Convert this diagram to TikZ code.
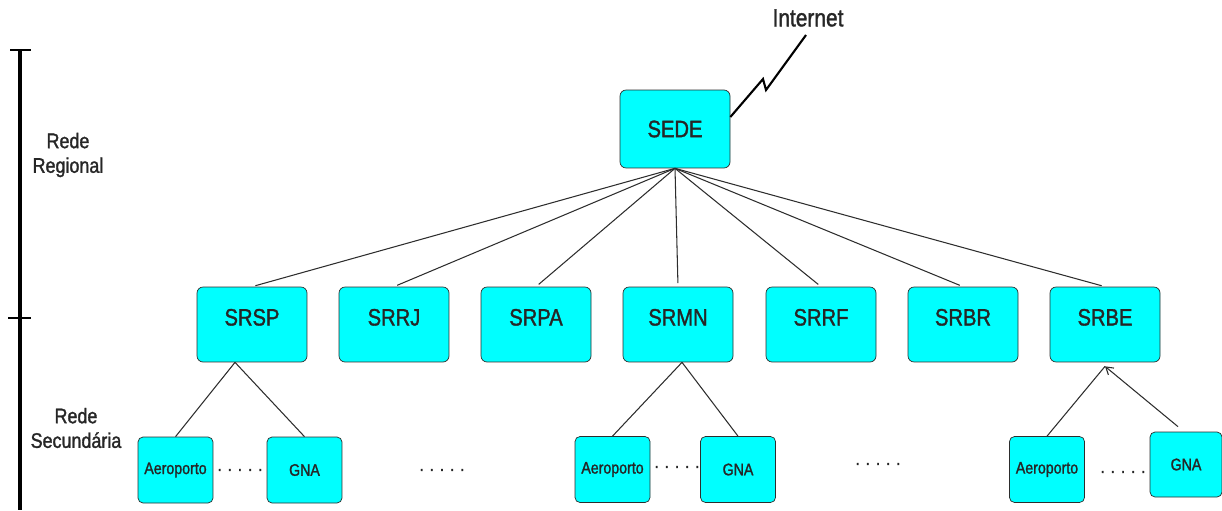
\documentclass[tikz,border=0pt]{standalone}
\usepackage{fontspec}
\setmainfont[FakeStretch=0.85, FakeBold=1.4]{Liberation Sans}
\usepackage{xcolor}
\usepackage{tikz}
\usetikzlibrary{arrows.meta, calc}
\definecolor{boxcyan}{RGB}{0,255,255}
\definecolor{edgegray}{RGB}{45,45,45}

\begin{document}
\begin{tikzpicture}[x=0.02cm, y=-0.02cm,
        every node/.style={font=\fontsize{12}{14}\selectfont, text=black!85},
        sedebox/.style={draw=edgegray, rounded corners=0.12cm, fill=boxcyan, inner sep=0pt,
            minimum width=2.2cm, minimum height=1.56cm, font=\fontsize{13.5}{16}\selectfont},
        srbox/.style={sedebox, minimum height=1.5cm, text height=0.34cm, text depth=0.3cm},
        subbox/.style={draw=edgegray, rounded corners=0.1cm, fill=boxcyan, inner sep=0pt,
            minimum width=1.5cm, minimum height=1.32cm, font=\fontsize{9.5}{11}\selectfont},
        dotrow/.style={font=\fontsize{10.5}{12}\selectfont},
        link/.style={edgegray, line width=0.6pt}]
            \useasboundingbox (0,0) rectangle (1222,510);
            % scale bar
            \draw[line width=1.8pt] (20,50) -- (20,510);
            \draw[line width=1pt] (10,50) -- (31,50);
            \draw[line width=1pt] (8,318) -- (31,318);
            \node[align=center] (regional) at (68,155) {Rede\\Regional};
            \node[align=center] (secundaria) at (76,428) {Rede\\Secundária};
            % head office and internet
            \node[sedebox] (sede) at (675,129) {SEDE};
            \node[font=\fontsize{14}{16}\selectfont] (internet) at (808,18) {Internet};
            \coordinate (net) at (806,35);
            \draw[line width=1.2pt] ([yshift=0.24cm]sede.east) -- (763,79) -- (766,90) -- (net);
            % regional offices
            \node[srbox] (srsp) at (252,324.5) {SRSP};
            \node[srbox] (srrj) at (394,324.5) {SRRJ};
            \node[srbox] (srpa) at (536,324.5) {SRPA};
            \node[srbox] (srmn) at (678,324.5) {SRMN};
            \node[srbox] (srrf) at (821,324.5) {SRRF};
            \node[srbox] (srbr) at (963,324.5) {SRBR};
            \node[srbox] (srbe) at (1105,324.5) {SRBE};
            \foreach \office in {srsp, srrj, srpa, srmn, srrf, srbr, srbe}
                \draw[link, shorten >=2pt] (sede.south) -- (\office.north);
            % secondary network
            \node[subbox] (aerosp) at (175.5,470) {Aeroporto};
            \node[subbox] (gnasp) at (304.5,470) {GNA};
            \node[subbox] (aeromn) at (612.5,469.5) {Aeroporto};
            \node[subbox] (gnamn) at (738,469.5) {GNA};
            \node[subbox] (aerobe) at (1047,469.5) {Aeroporto};
            \node[subbox, minimum width=1.44cm, minimum height=1.3cm] (gnabe) at (1186,464.5) {GNA};
            \node[dotrow] (dotsa) at (240,470) {. . . . .};
            \node[dotrow] (dotsb) at (442,470) {. . . . .};
            \node[dotrow] (dotsc) at (677,467) {. . . . .};
            \node[dotrow] (dotsd) at (878,464) {. . . . .};
            \node[dotrow] (dotse) at (1123,472) {. . . . .};
            \draw[link] ([xshift=-0.34cm]srsp.south) -- (aerosp.north);
            \draw[link] ([xshift=-0.34cm]srsp.south) -- (gnasp.north);
            \draw[link] ([xshift=0.08cm]srmn.south) -- (aeromn.north);
            \draw[link] ([xshift=0.08cm]srmn.south) -- (gnamn.north);
            \draw[link] (aerobe.north) -- ([yshift=-0.08cm]srbe.south);
            \draw[link, -{Straight Barb[length=4pt, width=5pt]}] ([xshift=-0.16cm, yshift=0.1cm]gnabe.north) -- ([yshift=-0.08cm]srbe.south);
        \end{tikzpicture}
\end{document}
